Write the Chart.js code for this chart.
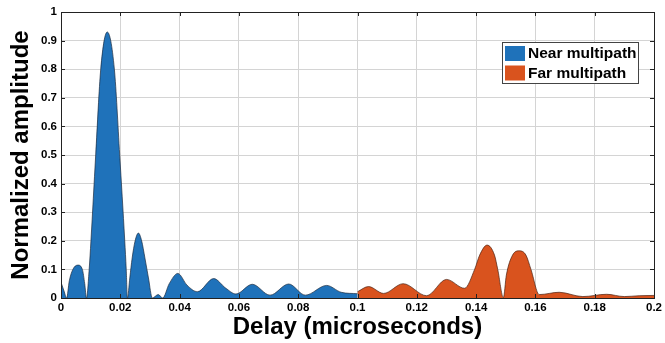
<!DOCTYPE html>
<html>
<head>
<meta charset="utf-8">
<script src="https://cdn.jsdelivr.net/npm/chart.js@4.4.0/dist/chart.umd.min.js"></script>
<style>
  html, body { margin: 0; padding: 0; background: #fff; }
  #wrap { width: 665px; height: 343px; }
</style>
</head>
<body>
<div id="wrap"><canvas id="delayChart"></canvas></div>
<script>
// Near multipath (blue) - delay in microseconds, normalized amplitude
const nearDelay = [0, 0.0010, 0.0019, 0.0028, 0.0040, 0.0057, 0.0072, 0.0080, 0.0086,
    0.0095, 0.0101, 0.0117, 0.0134, 0.0156, 0.0180, 0.0198, 0.0215, 0.0220, 0.0224,
    0.0232, 0.0240, 0.0250, 0.0261, 0.0272, 0.0283, 0.0295, 0.0308,
    0.0328, 0.0343, 0.0365, 0.0394, 0.0425,
    0.0460, 0.0515, 0.0555, 0.0590, 0.0645, 0.0705, 0.0768, 0.0824, 0.0896, 0.0945, 0.1000];
const nearAmp = [0.055, 0.025, 0.0, 0.06, 0.100, 0.115, 0.100, 0.05, 0.0,
    0.10, 0.20, 0.50, 0.80, 0.93, 0.80, 0.50, 0.20, 0.10, 0.0,
    0.07, 0.14, 0.20, 0.227, 0.20, 0.14, 0.07, 0.0,
    0.012, 0.0, 0.05, 0.086, 0.045,
    0.022, 0.068, 0.035, 0.014, 0.048, 0.010, 0.049, 0.010, 0.044, 0.020, 0.015];

// Far multipath (orange)
const farDelay = [0.1000, 0.1037, 0.1088, 0.1154, 0.1233, 0.1300, 0.1361, 0.1395, 0.1412,
    0.1437, 0.1462, 0.1473, 0.1492, 0.1502, 0.1523, 0.1546, 0.1568, 0.1585, 0.1613,
    0.1680, 0.1760, 0.1840, 0.1900, 0.1950, 0.2000];
const farAmp = [0.022, 0.040, 0.016, 0.050, 0.008, 0.065, 0.034, 0.100, 0.150,
    0.185, 0.150, 0.100, 0.002, 0.080, 0.150, 0.165, 0.150, 0.100, 0.012,
    0.020, 0.005, 0.013, 0.005, 0.008, 0.009];

const seriesNames = ['Near multipath', 'Far multipath'];
const xTickLabels = ['0', '0.02', '0.04', '0.06', '0.08', '0.1', '0.12', '0.14', '0.16', '0.18', '0.2'];
const yTickLabels = ['0', '0.1', '0.2', '0.3', '0.4', '0.5', '0.6', '0.7', '0.8', '0.9', '1'];

const blue = '#1f72ba';
const orange = '#d9531e';
const fontFamily = '"Liberation Sans", Arial, sans-serif';

function toPoints(xs, ys) {
    return xs.map((x, i) => ({ x: x, y: ys[i] }));
}

// box round the axes, inward ticks and the legend (drawn inside the plot)
const matlabAxes = {
    id: 'matlabAxes',
    afterDraw(chart) {
        const ctx = chart.ctx;
        const a = chart.chartArea;
        const xs = chart.scales.x;
        const ys = chart.scales.y;
        ctx.save();
        ctx.strokeStyle = '#222';
        ctx.lineWidth = 1;
        ctx.beginPath();
        xs.ticks.forEach(t => {
            const px = Math.round(xs.getPixelForValue(t.value)) + 0.5;
            ctx.moveTo(px, a.bottom); ctx.lineTo(px, a.bottom - 4);
            ctx.moveTo(px, a.top); ctx.lineTo(px, a.top + 4);
        });
        ys.ticks.forEach(t => {
            const py = Math.round(ys.getPixelForValue(t.value)) + 0.5;
            ctx.moveTo(a.left, py); ctx.lineTo(a.left + 4, py);
            ctx.moveTo(a.right, py); ctx.lineTo(a.right - 4, py);
        });
        ctx.stroke();
        ctx.strokeRect(Math.round(a.left) + 0.5, Math.round(a.top) + 0.5,
            Math.round(a.right - a.left), Math.round(a.bottom - a.top));

        // legend
        const lx = a.right - 152, ly = a.top + 30, lw = 136, lh = 41;
        ctx.fillStyle = '#fff';
        ctx.fillRect(lx, ly, lw, lh);
        ctx.strokeStyle = '#444';
        ctx.strokeRect(lx + 0.5, ly + 0.5, lw, lh);
        ctx.font = 'bold 15.5px ' + fontFamily;
        ctx.textBaseline = 'middle';
        chart.data.datasets.forEach((ds, i) => {
            const ry = ly + 4 + i * 19.5;
            ctx.fillStyle = ds.backgroundColor;
            ctx.fillRect(lx + 3, ry, 20, 15);
            ctx.fillStyle = '#000';
            ctx.fillText(ds.label, lx + 26, ry + 8);
        });
        ctx.restore();
    }
};

const config = {
    type: 'line',
    data: {
        datasets: [
            {
                label: seriesNames[0],
                data: toPoints(nearDelay, nearAmp),
                borderColor: 'rgba(25,40,60,0.85)',
                backgroundColor: blue,
                borderWidth: 0.8,
                fill: 'origin',
                pointRadius: 0,
                cubicInterpolationMode: 'monotone'
            },
            {
                label: seriesNames[1],
                data: toPoints(farDelay, farAmp),
                borderColor: 'rgba(70,30,15,0.85)',
                backgroundColor: orange,
                borderWidth: 0.8,
                fill: 'origin',
                pointRadius: 0,
                cubicInterpolationMode: 'monotone'
            }
        ]
    },
    options: {
        responsive: true,
        maintainAspectRatio: false,
        animation: false,
        layout: { padding: { top: 12, right: 8, left: 0, bottom: 0 } },
        plugins: {
            legend: { display: false },
            tooltip: { enabled: false }
        },
        scales: {
            x: {
                type: 'linear',
                min: 0,
                max: 0.2,
                afterFit: scale => { scale.height = 45; },
                afterBuildTicks: scale => {
                    scale.ticks = xTickLabels.map(v => ({ value: parseFloat(v) }));
                },
                ticks: {
                    padding: 3,
                    color: '#000',
                    font: { family: fontFamily, size: 11.5, weight: 'bold' },
                    maxRotation: 0,
                    callback: (v, i) => xTickLabels[i]
                },
                grid: { color: '#d4d4d4', drawTicks: false },
                border: { display: false },
                title: {
                    display: true,
                    text: 'Delay (microseconds)',
                    color: '#000',
                    font: { family: fontFamily, size: 24, weight: 'bold' },
                    padding: { top: 0, bottom: 1 }
                }
            },
            y: {
                min: 0,
                max: 1,
                afterFit: scale => { scale.width = 61; },
                afterBuildTicks: scale => {
                    scale.ticks = yTickLabels.map(v => ({ value: parseFloat(v) }));
                },
                ticks: {
                    padding: 4,
                    color: '#000',
                    font: { family: fontFamily, size: 11.5, weight: 'bold' },
                    callback: (v, i) => yTickLabels[i]
                },
                grid: { color: '#d4d4d4', drawTicks: false },
                border: { display: false },
                title: {
                    display: true,
                    text: 'Normalized amplitude',
                    color: '#000',
                    font: { family: fontFamily, size: 24, weight: 'bold' },
                    padding: { top: 7, bottom: 0 }
                }
            }
        }
    },
    plugins: [matlabAxes]
};

const delayChart = new Chart(document.getElementById('delayChart').getContext('2d'), config);
</script>
</body>
</html>
